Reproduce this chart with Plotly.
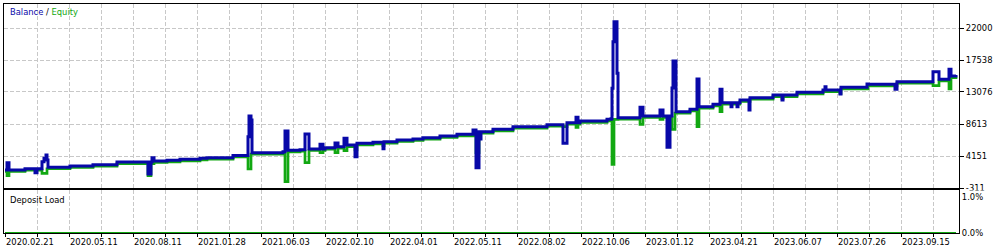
import plotly.graph_objects as go

# ---- data (deal position, balance, equity) ----
deal_pos = [5, 7, 7, 9, 9, 24, 25, 34, 35, 36, 37, 41, 42, 44, 46, 47, 48, 69, 70, 92,
            93, 116, 117, 147, 148, 150, 151, 152, 154, 154, 166, 167, 179, 180, 199, 200, 206, 207, 232, 233,
            247, 248, 249, 251, 252, 282, 283, 285, 285, 287, 288, 299, 300, 305, 305, 308, 309, 320, 320, 322,
            323, 325, 335, 335, 337, 338, 344, 344, 347, 347, 355, 355, 357, 357, 372, 373, 382, 383, 384, 396,
            397, 412, 413, 422, 423, 439, 440, 456, 457, 472, 473, 475, 476, 478, 479, 480, 481, 492, 493, 512,
            513, 546, 547, 562, 563, 566, 567, 575, 576, 577, 578, 580, 606, 607, 611, 612, 613, 614, 616, 617,
            618, 639, 640, 642, 643, 659, 660, 662, 663, 666, 667, 669, 670, 672, 673, 675, 676, 689, 690, 697,
            697, 699, 699, 712, 713, 719, 720, 721, 722, 730, 731, 732, 736, 737, 738, 740, 748, 749, 750, 772,
            773, 781, 782, 783, 796, 797, 822, 823, 825, 826, 839, 840, 841, 866, 867, 868, 894, 895, 897, 932,
            933, 938, 939, 948, 949, 950, 951, 956]

balance = [2199, 2199, 3217, 3217, 2199, 2199, 2380, 2380, 1822, 1822, 2380, 2380, 3356, 3830, 4291, 3593, 2575, 2575, 2757, 2757,
           2938, 2938, 3314, 3314, 1641, 1641, 3314, 3914, 3914, 3454, 3454, 3551, 3551, 3691, 3691, 3830, 3830, 3914, 3914, 4221,
           4221, 6842, 9729, 9171, 4611, 4611, 4751, 4751, 7637, 7637, 4946, 4946, 5030, 5030, 7219, 7219, 5127, 5127, 5782, 5782,
           5127, 5308, 5308, 5964, 5964, 5448, 5448, 6619, 6619, 5685, 5685, 4053, 4053, 5922, 5922, 6061, 6061, 5169, 6145, 6145,
           6382, 6382, 6522, 6522, 6703, 6703, 6940, 6940, 7177, 7177, 7777, 7777, 2520, 2520, 7540, 6513, 7540, 7540, 7874, 7874,
           8237, 8237, 8516, 8516, 5922, 5922, 8794, 8794, 9547, 9547, 8794, 9031, 9031, 9268, 9352, 13591, 20089, 22878, 22878, 15683,
           9492, 9492, 10942, 10942, 9729, 9729, 10565, 10565, 9729, 9729, 5364, 5364, 9729, 13633, 17398, 17398, 10328, 10328, 10663, 10663,
           14888, 14888, 11025, 11025, 11360, 11360, 13452, 13452, 11583, 11583, 11025, 11583, 11583, 11025, 11583, 11960, 11960, 10565, 12280, 12280,
           12657, 12657, 11960, 12657, 12657, 13033, 13033, 13354, 13814, 13354, 13354, 12796, 13731, 13731, 14192, 14149, 14149, 13452, 14512, 14512,
           15906, 15906, 14846, 14846, 16240, 16240, 15306, 15446]

equity = [1990, 1990, 1404, 1404, 1990, 1990, 2170, 2170, 2170, 2170, 2170, 2170, 1739, 1739, 1739, 2370, 2370, 2370, 2550, 2550,
          2730, 2730, 3100, 3100, 1404, 1404, 3100, 3100, 3250, 3250, 3250, 3340, 3340, 3480, 3480, 3620, 3620, 3710, 3710, 4010,
          4010, 2338, 2338, 4400, 4400, 4400, 4540, 4540, 567, 567, 4740, 4740, 4820, 4820, 3217, 3217, 4920, 4920, 4611, 4611,
          4920, 5100, 5100, 4611, 4611, 5240, 5240, 4890, 4890, 5470, 5470, 5000, 5000, 5710, 5710, 5850, 5850, 5600, 5930, 5930,
          6170, 6170, 6310, 6310, 6490, 6490, 6730, 6730, 6970, 6970, 6970, 6970, 4611, 4611, 7330, 7330, 7330, 7330, 7660, 7660,
          8020, 8020, 8300, 8300, 8237, 8237, 8580, 8580, 8153, 8153, 8580, 8820, 8820, 9050, 9140, 2994, 2994, 9270, 9270, 9270,
          9280, 9280, 8572, 8572, 9520, 9520, 9268, 9268, 9520, 9520, 9520, 9520, 9520, 7874, 7874, 10120, 10120, 10120, 10450, 10450,
          8237, 8237, 10810, 10810, 11150, 11150, 10328, 10328, 11370, 11370, 11370, 11370, 11370, 11370, 11370, 11750, 11750, 11750, 12070, 12070,
          12440, 12440, 12170, 12440, 12440, 12820, 12820, 13140, 13140, 13140, 13140, 12870, 13520, 13520, 13520, 13940, 13940, 13940, 14300, 14300,
          13954, 13954, 14630, 14630, 13494, 13494, 15090, 15230]

load_pos = [5, 956]
deposit_load = [0.0, 0.0]

y_ticks = [-311, 4151, 8613, 13076, 17538, 22000]
x_tick_text = ["2020.02.21", "2020.05.11", "2020.08.11", "2021.01.28", "2021.06.03",
               "2022.02.10", "2022.04.01", "2022.05.11", "2022.08.02", "2022.10.06",
               "2023.01.12", "2023.04.21", "2023.06.07", "2023.07.26", "2023.09.15"]
grid_pos = [5 + 32 * k for k in range(30)]
grid_text = [x_tick_text[k // 2] if k % 2 == 0 else "" for k in range(30)]

BLUE = "#0808A8"
GREEN = "#12A812"
FONT = "DejaVu Sans Condensed, DejaVu Sans, sans-serif"
FS = 9.3
GRID = "#c8c8c8"

fig = go.Figure()
fig.add_trace(go.Scatter(x=deal_pos, y=equity, mode="lines", line=dict(color=GREEN, width=2.7, shape="hv"),
                         xaxis="x", yaxis="y", showlegend=False, hoverinfo="skip"))
fig.add_trace(go.Scatter(x=deal_pos, y=balance, mode="lines", line=dict(color=BLUE, width=3, shape="hv"),
                         xaxis="x", yaxis="y", showlegend=False, hoverinfo="skip"))
fig.add_trace(go.Scatter(x=load_pos, y=deposit_load, mode="lines", line=dict(color=GREEN, width=2),
                         xaxis="x2", yaxis="y2", showlegend=False, hoverinfo="skip", cliponaxis=False))

W, H = 1004, 251
xdom = [4 / W, 959 / W]
axis_common = dict(showline=True, linecolor="black", linewidth=1, mirror=True, zeroline=False,
                   automargin=False)

fig.update_layout(
    width=W, height=H, margin=dict(l=0, r=0, t=0, b=0),
    paper_bgcolor="white", plot_bgcolor="white",
    font=dict(family=FONT, size=FS, color="black"),
    xaxis=dict(domain=xdom, range=[4, 959], anchor="y", tickmode="array", tickvals=grid_pos,
               ticktext=["" for _ in grid_pos], showgrid=True, gridcolor=GRID, griddash="4px,2px",
               gridwidth=1, ticks="", **axis_common),
    yaxis=dict(domain=[63 / H, 247 / H], range=[-311, 25346], anchor="x", side="right",
               tickmode="array", tickvals=y_ticks, ticktext=[str(v) for v in y_ticks],
               showgrid=True, gridcolor=GRID, griddash="4px,2px", gridwidth=1,
               ticks="outside", ticklen=4, tickcolor="black", **axis_common),
    xaxis2=dict(domain=xdom, range=[4, 959], anchor="y2", tickmode="array", tickvals=grid_pos,
                ticktext=grid_text, ticklabelposition="outside right", tickangle=0,
                showgrid=True, gridcolor=GRID, griddash="4px,2px", gridwidth=1,
                ticks="outside", ticklen=3, tickcolor="black", **axis_common),
    yaxis2=dict(domain=[18 / H, 61 / H], range=[0, 1.17], anchor="x2", side="right",
                tickmode="array", tickvals=[0, 1], ticktext=["0.0%", "1.0%"], showgrid=False,
                ticks="", **axis_common),
    shapes=[
        # the lower pane hides the bottom of the "-311" label, as in the terminal
        dict(type="rect", xref="paper", yref="paper", layer="above",
             x0=960 / W, x1=1.0, y0=1 - 193 / H, y1=1 - 190.6 / H,
             line=dict(width=0), fillcolor="white"),
    ],
    annotations=[
        dict(xref="paper", yref="paper", x=8 / W, y=1 - 12 / H, xanchor="left", yanchor="middle",
             showarrow=False, font=dict(family=FONT, size=FS),
             text=f"<span style='color:{BLUE}'>Balance</span> / <span style='color:{GREEN}'>Equity</span>"),
        dict(xref="paper", yref="paper", x=8 / W, y=1 - 199 / H, xanchor="left", yanchor="middle",
             showarrow=False, font=dict(family=FONT, size=FS, color="black"), text="Deposit Load"),
    ],
)

fig.write_html("out.html")
